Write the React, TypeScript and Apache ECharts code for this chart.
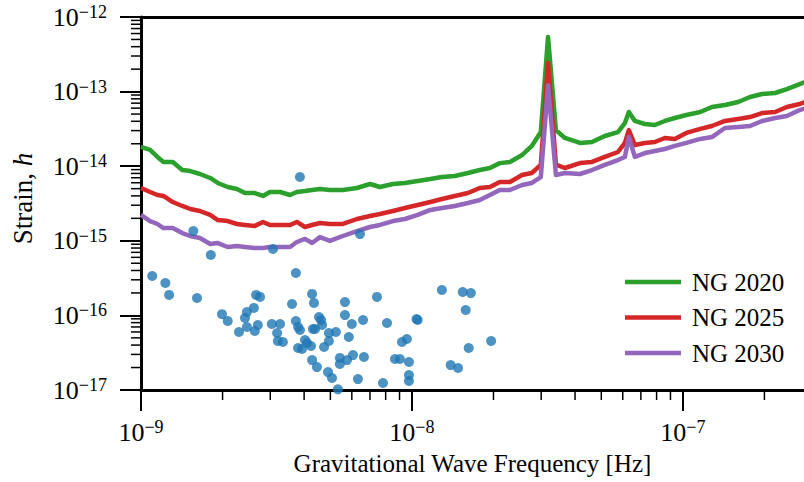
import React, { useEffect, useRef } from "react";
import * as echarts from "echarts";

// ---- data ----
const frequencies = [
  1.0e-9, 1.08e-9, 1.15e-9, 1.21e-9, 1.31e-9, 1.42e-9, 1.52e-9, 1.65e-9, 1.8e-9, 1.92e-9,
  2.09e-9, 2.26e-9, 2.42e-9, 2.63e-9, 2.82e-9, 2.99e-9, 3.26e-9, 3.55e-9, 3.76e-9, 4.03e-9,
  4.28e-9, 4.58e-9, 4.98e-9, 5.56e-9, 6.27e-9, 7.0e-9, 7.62e-9, 8.51e-9, 9.42e-9, 1.05e-8,
  1.17e-8, 1.29e-8, 1.44e-8, 1.61e-8, 1.78e-8, 1.94e-8, 2.11e-8, 2.3e-8, 2.55e-8, 2.77e-8,
  2.99e-8, 3.18e-8, 3.4e-8, 3.67e-8, 4.17e-8, 4.62e-8, 5.15e-8, 5.76e-8, 6.11e-8, 6.32e-8,
  6.65e-8, 7.24e-8, 7.88e-8, 8.58e-8, 9.34e-8, 1.03e-7, 1.16e-7, 1.28e-7, 1.43e-7, 1.6e-7,
  1.77e-7, 1.96e-7, 2.19e-7, 2.42e-7, 2.7e-7, 2.94e-7,
];

const ng2020 = [
  1.81e-14, 1.65e-14, 1.33e-14, 1.14e-14, 1.14e-14, 8.9e-15, 8.6e-15, 7.86e-15, 6.95e-15, 5.96e-15,
  5.26e-15, 4.95e-15, 4.37e-15, 4.37e-15, 3.99e-15, 4.51e-15, 4.51e-15, 4.11e-15, 4.51e-15, 4.65e-15,
  4.8e-15, 4.95e-15, 4.8e-15, 4.8e-15, 5.1e-15, 5.77e-15, 5.26e-15, 5.77e-15, 5.96e-15, 6.34e-15,
  6.73e-15, 7.16e-15, 7.39e-15, 8.11e-15, 8.9e-15, 9.46e-15, 1.1e-14, 1.14e-14, 1.41e-14, 1.87e-14,
  2.87e-14, 5.4e-13, 3.05e-14, 2.39e-14, 2.05e-14, 2.11e-14, 2.54e-14, 2.87e-14, 3.79e-14, 5.33e-14,
  4.04e-14, 3.68e-14, 3.57e-14, 4.04e-14, 4.43e-14, 4.86e-14, 5.33e-14, 6.22e-14, 6.61e-14, 7.26e-14,
  8.47e-14, 9.29e-14, 9.58e-14, 1.08e-13, 1.26e-13, 1.43e-13,
];

const ng2025 = [
  5.1e-15, 4.51e-15, 4.11e-15, 3.99e-15, 3.31e-15, 2.93e-15, 2.67e-15, 2.51e-15, 2.22e-15, 1.9e-15,
  1.84e-15, 1.68e-15, 1.63e-15, 1.58e-15, 1.79e-15, 1.63e-15, 1.63e-15, 1.63e-15, 1.79e-15, 1.53e-15,
  1.63e-15, 1.73e-15, 1.68e-15, 1.68e-15, 1.96e-15, 2.15e-15, 2.29e-15, 2.51e-15, 2.75e-15, 3.02e-15,
  3.31e-15, 3.63e-15, 3.99e-15, 4.37e-15, 5.1e-15, 5.26e-15, 6.14e-15, 6.14e-15, 7.62e-15, 8.11e-15,
  1.04e-14, 2.42e-13, 1.05e-14, 9.46e-15, 1.1e-14, 1.14e-14, 1.33e-14, 1.55e-14, 2.05e-14, 3.05e-14,
  1.92e-14, 2.05e-14, 2.11e-14, 2.39e-14, 2.32e-14, 2.79e-14, 3.16e-14, 3.46e-14, 4.04e-14, 4.29e-14,
  4.56e-14, 5.16e-14, 5.33e-14, 6.21e-14, 6.82e-14, 7.71e-14,
];

const ng2030 = [
  2.22e-15, 1.84e-15, 1.68e-15, 1.48e-15, 1.48e-15, 1.27e-15, 1.16e-15, 1.09e-15, 9.06e-16, 9.33e-16,
  8.26e-16, 8.51e-16, 8.26e-16, 8.0e-16, 8.0e-16, 8.26e-16, 8.26e-16, 8.26e-16, 9.63e-16, 1.06e-15,
  9.33e-16, 1.12e-15, 1.0e-15, 1.16e-15, 1.35e-15, 1.53e-15, 1.63e-15, 1.84e-15, 1.96e-15, 2.22e-15,
  2.59e-15, 2.75e-15, 2.93e-15, 3.21e-15, 3.52e-15, 4.11e-15, 4.8e-15, 4.8e-15, 5.6e-15, 5.96e-15,
  7.16e-15, 1.22e-13, 7.62e-15, 8.11e-15, 7.86e-15, 8.89e-15, 1.04e-14, 1.21e-14, 1.33e-14, 2.46e-14,
  1.33e-14, 1.5e-14, 1.6e-14, 1.7e-14, 1.87e-14, 2.05e-14, 2.32e-14, 2.46e-14, 3.25e-14, 3.35e-14,
  3.46e-14, 4.04e-14, 4.43e-14, 4.71e-14, 5.66e-14, 6.21e-14,
];

const pulsarFreq = [
  1.1e-9, 1.23e-9, 1.27e-9, 1.61e-9, 1.56e-9, 1.81e-9, 1.99e-9, 2.09e-9, 2.3e-9, 2.42e-9,
  2.46e-9, 2.46e-9, 2.61e-9, 2.63e-9, 2.7e-9, 2.66e-9, 2.75e-9, 3.04e-9, 3.26e-9, 3.18e-9,
  3.2e-9, 3.34e-9, 3.61e-9, 3.73e-9, 3.8e-9, 3.86e-9, 3.8e-9, 3.93e-9, 4.03e-9, 4.1e-9,
  4.24e-9, 4.28e-9, 4.35e-9, 4.54e-9, 4.62e-9, 4.66e-9, 4.31e-9, 4.39e-9, 4.28e-9, 4.46e-9,
  4.94e-9, 5.24e-9, 4.94e-9, 4.74e-9, 4.9e-9, 5.07e-9, 5.33e-9, 5.42e-9, 5.42e-9, 5.76e-9,
  6.06e-9, 5.66e-9, 5.66e-9, 5.85e-9, 6.0e-9, 6.6e-9, 6.65e-9, 6.32e-9, 7.43e-9, 8.09e-9,
  7.82e-9, 8.66e-9, 9.03e-9, 9.75e-9, 9.19e-9, 9.58e-9, 9.75e-9, 9.75e-9, 1.04e-8, 1.05e-8,
  1.29e-8, 1.54e-8, 1.65e-8, 1.58e-8, 1.96e-8, 1.62e-8, 1.39e-8, 1.48e-8, 3.86e-9, 3.07e-9,
  6.43e-9, 3.73e-9,
];

const pulsarStrain = [
  3.37e-16, 2.72e-16, 1.88e-16, 1.71e-16, 1.35e-15, 6.45e-16, 1.04e-16, 8.41e-17, 5.99e-17, 9.23e-17,
  1.11e-16, 7.0e-17, 1.26e-16, 6.18e-17, 7.44e-17, 1.88e-16, 1.77e-16, 7.67e-17, 7.67e-17, 5.81e-17,
  4.54e-17, 4.4e-17, 1.42e-16, 8.41e-17, 7.0e-17, 6.37e-17, 3.66e-17, 3.55e-17, 4.68e-17, 4.27e-17,
  3.89e-17, 1.94e-16, 1.47e-16, 9.52e-17, 8.67e-17, 7.44e-17, 6.57e-17, 6.57e-17, 2.52e-17, 2.03e-17,
  5.81e-17, 5.99e-17, 4.54e-17, 3.77e-17, 1.74e-17, 1.45e-17, 1.02e-17, 2.69e-17, 2.23e-17, 2.52e-17,
  2.94e-17, 1.51e-16, 1.01e-16, 5.13e-17, 7.67e-17, 8.67e-17, 2.77e-17, 1.4e-17, 1.77e-16, 7.91e-17,
  1.24e-17, 2.6e-17, 2.6e-17, 2.37e-17, 4.4e-17, 4.83e-17, 1.59e-17, 1.32e-17, 8.96e-17, 8.67e-17,
  2.19e-16, 2.06e-16, 1.99e-16, 1.18e-16, 4.54e-17, 3.66e-17, 2.16e-17, 1.97e-17, 7.16e-15, 7.76e-16,
  1.23e-15, 3.7e-16,
];

const seriesNames = ["NG 2020", "NG 2025", "NG 2030"];
const seriesColors = ["#2ca02c", "#d62728", "#9467bd"];
const xRange = [1e-9, 2.8e-7];
const yRange = [1e-17, 1e-12];

const FONT = "'Liberation Serif', 'Times New Roman', serif";

const lg = (v: number) => Math.log10(v);

function minorTickValues(lo: number, hi: number): number[] {
  const out: number[] = [];
  for (let e = Math.floor(lg(lo)); e <= Math.ceil(lg(hi)); e++) {
    for (let m = 2; m <= 9; m++) {
      const v = m * Math.pow(10, e);
      if (v > lo && v < hi) out.push(v);
    }
  }
  return out;
}

const powLabel = (v: number) => {
  const r = Math.round(v);
  if (Math.abs(v - r) > 1e-6) return "";
  return `{b|10}{s|${r < 0 ? "\u2212" : ""}${Math.abs(r)}}`;
};

const labelRich = {
  b: { fontFamily: FONT, fontSize: 26, color: "#000" },
  s: { fontFamily: FONT, fontSize: 18, color: "#000", padding: [0, 0, 10, 0] },
};

export default function App() {
  const ref = useRef<HTMLDivElement>(null);
  useEffect(() => {
    if (!ref.current) return;
    const chart = echarts.init(ref.current, undefined, { renderer: "svg" });
    const X_MIN = lg(xRange[0]);
    const X_MAX = lg(xRange[1]);
    const Y_MIN = lg(yRange[0]);
    const Y_MAX = lg(yRange[1]);
    const curves = [ng2020, ng2025, ng2030];

    const lineSeries = curves.map((vals, k) => ({
      name: seriesNames[k],
      type: "line",
      data: frequencies.map((f, i) => [lg(f), lg(vals[i])]),
      symbol: "none",
      showSymbol: false,
      color: seriesColors[k],
      lineStyle: { width: 4.5, color: seriesColors[k], join: "round" },
      z: 3,
      clip: true,
    }));

    const xMinor = minorTickValues(xRange[0], xRange[1]).map((v) => [lg(v), Y_MIN]);
    const yMinor = minorTickValues(yRange[0], yRange[1]).map((v) => [X_MIN, lg(v)]);

    const option: any = {
      animation: false,
      backgroundColor: "#fff",
      grid: { left: 141, top: 17, right: 0, bottom: 92, containLabel: false, outerBoundsMode: "none" },
      legend: {
        data: seriesNames,
        orient: "vertical",
        left: 625,
        top: 268,
        padding: 0,
        icon: "rect",
        itemWidth: 56,
        itemHeight: 4.5,
        itemGap: 7.5,
        textStyle: { fontFamily: FONT, fontSize: 25, color: "#000", lineHeight: 28, padding: [0, 0, 0, 6] },
      },
      xAxis: [
        {
          type: "value",
          min: X_MIN,
          max: X_MAX,
          interval: 1,
          position: "bottom",
          axisLine: { show: true, onZero: false, lineStyle: { color: "#000", width: 3 } },
          axisTick: { show: true, inside: false, length: 21, lineStyle: { color: "#000", width: 2 } },
          axisLabel: { formatter: powLabel, rich: labelRich, margin: 28, showMaxLabel: false },
          splitLine: { show: false },
          name: "Gravitational Wave Frequency [Hz]",
          nameLocation: "middle",
          nameGap: 61,
          nameTextStyle: { fontFamily: FONT, fontSize: 25, color: "#000" },
        },
        {
          type: "value",
          min: X_MIN,
          max: X_MAX,
          position: "top",
          axisLine: { show: true, onZero: false, lineStyle: { color: "#000", width: 3 } },
          axisTick: { show: false },
          axisLabel: { show: false },
          splitLine: { show: false },
        },
      ],
      yAxis: {
        type: "value",
        min: Y_MIN,
        max: Y_MAX,
        interval: 1,
        axisLine: { show: true, onZero: false, lineStyle: { color: "#000", width: 3 } },
        axisTick: { show: true, inside: false, length: 21, lineStyle: { color: "#000", width: 2 } },
        axisLabel: { formatter: powLabel, rich: labelRich, margin: 34 },
        splitLine: { show: false },
        name: "{a|Strain, }{i|h}",
        nameLocation: "middle",
        nameGap: 105,
        nameRotate: 90,
        nameTextStyle: {
          fontFamily: FONT,
          fontSize: 27,
          color: "#000",
          padding: [0, 0, 0, 10],
          rich: {
            a: { fontFamily: FONT, fontSize: 27, color: "#000" },
            i: { fontFamily: FONT, fontSize: 27, color: "#000", fontStyle: "italic" },
          },
        },
      },
      series: [
        ...lineSeries,
        {
          name: "pulsars",
          type: "scatter",
          data: pulsarFreq.map((f, i) => [lg(f), lg(pulsarStrain[i])]),
          symbol: "circle",
          symbolSize: 10,
          itemStyle: { color: "#1f77b4", opacity: 0.8 },
          z: 4,
        },
        {
          name: "xminor",
          type: "custom",
          silent: true,
          clip: false,
          data: xMinor,
          renderItem: (params: any, api: any) => {
            const p = api.coord([api.value(0), api.value(1)]);
            return {
              type: "line",
              shape: { x1: p[0], y1: p[1], x2: p[0], y2: p[1] + 10 },
              style: { stroke: "#000", lineWidth: 1.5 },
            };
          },
          z: 5,
        },
        {
          name: "yminor",
          type: "custom",
          silent: true,
          clip: false,
          data: yMinor,
          renderItem: (params: any, api: any) => {
            const p = api.coord([api.value(0), api.value(1)]);
            return {
              type: "line",
              shape: { x1: p[0] - 10, y1: p[1], x2: p[0], y2: p[1] },
              style: { stroke: "#000", lineWidth: 1.5 },
            };
          },
          z: 5,
        },
      ],
    };
    chart.setOption(option);
    return () => chart.dispose();
  }, []);
  return (
    <div
      ref={ref}
      style={{ position: "fixed", left: 0, top: 0, width: 804, height: 482, background: "#fff" }}
    />
  );
}
